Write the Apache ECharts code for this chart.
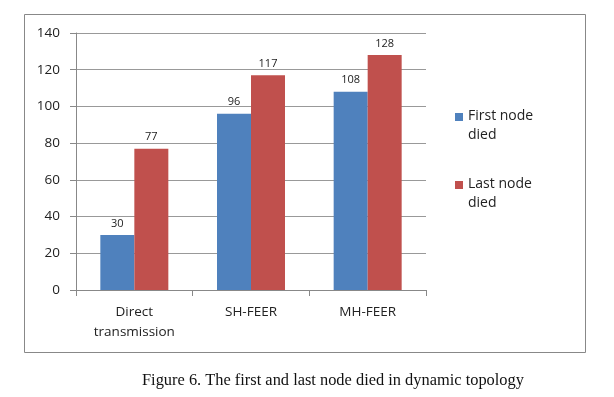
<!DOCTYPE html>
<html>
<head>
<meta charset="utf-8">
<script src="https://cdn.jsdelivr.net/npm/echarts@6/dist/echarts.min.js"></script>
<style>
  html, body { margin: 0; padding: 0; background: #fff; }
  #chart { width: 614px; height: 397px; }
</style>
</head>
<body>
<div id="chart"></div>
<script>
const categories = ['Direct\ntransmission', 'SH-FEER', 'MH-FEER']
const firstNodeDied = [30, 96, 108]
const lastNodeDied = [77, 117, 128]
const seriesNames = ['First node\ndied', 'Last node\ndied']
const caption = 'Figure 6. The first and last node died in dynamic topology'

const chart = echarts.init(document.getElementById('chart'))

const labelStyle = {
  show: true,
  position: 'top',
  distance: 6,
  color: '#222',
  fontSize: 11,
  fontFamily: 'Open Sans'
}

// square in the top of a taller box, so the swatch lines up with the first text line
const legendIcon = 'path://M0,0L8,0L8,8L0,8Z M0,26L0.01,26L0.01,26.01Z'

const option = {
  backgroundColor: '#fff',
  animation: false,
  graphic: [
    {
      type: 'rect',
      shape: { x: 24.5, y: 14.5, width: 561, height: 338 },
      style: { fill: 'none', stroke: '#888', lineWidth: 1 }
    },
    {
      type: 'text',
      left: 142,
      top: 373,
      style: {
        text: caption,
        font: '16.4px "Liberation Serif"',
        fill: '#111'
      }
    }
  ],
  grid: { left: 76, top: 33, width: 350, height: 257, containLabel: false },
  legend: {
    orient: 'vertical',
    left: 455,
    top: 107,
    padding: 0,
    itemWidth: 8,
    itemHeight: 26,
    itemGap: 30,
    icon: legendIcon,
    data: seriesNames,
    textStyle: {
      fontFamily: 'Open Sans',
      fontSize: 14,
      color: '#222',
      lineHeight: 19
    }
  },
  xAxis: {
    type: 'category',
    data: categories,
    axisLine: { lineStyle: { color: '#888' } },
    axisTick: { show: true, alignWithLabel: false, length: 6, lineStyle: { color: '#888' } },
    axisLabel: {
      color: '#222',
      fontFamily: 'Open Sans',
      fontSize: 13.5,
      lineHeight: 20,
      margin: 12
    }
  },
  yAxis: {
    type: 'value',
    min: 0,
    max: 140,
    interval: 20,
    axisLine: { show: true, lineStyle: { color: '#888' } },
    axisTick: { show: true, length: 6, lineStyle: { color: '#888' } },
    axisLabel: {
      color: '#222',
      fontFamily: 'Open Sans',
      fontSize: 13.5,
      margin: 16
    },
    splitLine: { lineStyle: { color: '#999' } }
  },
  series: [
    {
      name: seriesNames[0],
      type: 'bar',
      data: firstNodeDied,
      barWidth: 34,
      barGap: '0%',
      itemStyle: { color: '#4F81BD' },
      label: labelStyle
    },
    {
      name: seriesNames[1],
      type: 'bar',
      data: lastNodeDied,
      barWidth: 34,
      barGap: '0%',
      itemStyle: { color: '#C0504D' },
      label: labelStyle
    }
  ]
}

chart.setOption(option)
</script>
</body>
</html>
